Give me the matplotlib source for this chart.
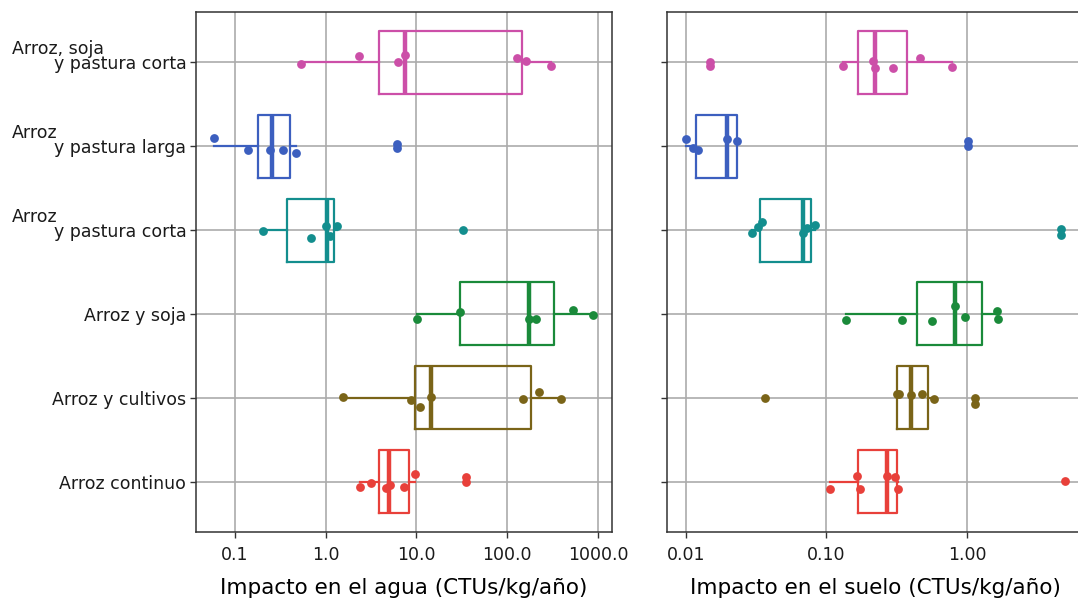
import matplotlib
matplotlib.use("Agg")
import matplotlib.pyplot as plt
import matplotlib.transforms as mtransforms
from matplotlib.ticker import FixedLocator, FixedFormatter

plt.rcParams['font.family'] = ['DejaVu Sans']

# ---- categories (bottom to top) ----
cat_line1 = ["", "", "", "Arroz", "Arroz", "Arroz, soja"]
cat_line2 = ["Arroz continuo", "Arroz y cultivos", "Arroz y soja",
             "y pastura corta", "y pastura larga", "y pastura corta"]
colors = ["#E8403A", "#7A6418", "#1A8A3A", "#138E8E", "#3C5FBF", "#CC4FA8"]

# ---- water impact: points (CTUs/kg/año) ----
agua_vals = [
    [2.39, 3.13, 4.61, 5.1, 7.22, 9.6, 34.8, 34.8],
    [1.54, 8.7, 11.0, 14.6, 150, 222, 387],
    [10.1, 30.1, 175, 205, 525, 885],
    [0.204, 0.689, 1.0, 1.11, 1.34, 32.5],
    [0.059, 0.14, 0.244, 0.341, 0.474, 6.03, 6.03],
    [0.53, 2.34, 6.3, 7.5, 128, 161, 302],
]
agua_jit_px = [
    [5.4, 1.4, 6.7, 3.4, 5.4, -7.3, -4.6, 0.4],
    [-0.7, 2.3, 9.0, -0.7, 1.3, -5.4, 1.6],
    [4.7, -2.0, 5.0, 5.0, -4.3, 1.4],
    [1.3, 8.3, -4.3, 5.7, -4.0, 0.0],
    [-8.0, 4.0, 4.3, 4.3, 7.0, -2.5, 1.5],
    [1.6, -6.0, -0.7, -7.7, -4.7, -1.7, 3.3],
]
# box stats: q1, median, q3, whisker low, whisker high
agua_q1 = [3.84, 9.7, 30.1, 0.378, 0.181, 3.84]
agua_med = [5.02, 14.6, 175, 1.03, 0.254, 7.47]
agua_q3 = [8.33, 182, 330, 1.23, 0.404, 144]
agua_lo = [2.39, 1.54, 10.1, 0.204, 0.059, 0.53]
agua_hi = [9.6, 387, 885, 1.34, 0.474, 302]

# ---- soil impact ----
suelo_vals = [
    [0.106, 0.164, 0.173, 0.271, 0.307, 0.321, 4.98],
    [0.0365, 0.317, 0.33, 0.399, 0.476, 0.582, 1.14, 1.14],
    [0.137, 0.345, 0.561, 0.821, 0.968, 1.64, 1.67],
    [0.0293, 0.0324, 0.0346, 0.068, 0.0723, 0.0828, 4.67, 4.67],
    [0.0100, 0.01127, 0.01224, 0.0195, 0.0230, 1.02, 1.02],
    [0.0148, 0.0148, 0.131, 0.213, 0.222, 0.299, 0.466, 0.786],
]
suelo_jit_px = [
    [7.7, -5.6, 7.7, -5.6, -4.6, 7.0, -0.6],
    [0.0, -3.4, -3.4, -2.7, -3.4, 1.3, 0.0, 6.6],
    [6.4, 5.7, 6.7, -7.6, 3.0, -3.3, 5.0],
    [3.3, -3.3, -8.3, 3.3, -1.7, -5.0, -1.0, 5.0],
    [-7.4, 1.6, 4.3, -7.4, -5.0, -5.0, 0.3],
    [-0.5, 3.5, 3.3, -1.4, 6.0, 6.0, -4.0, 4.3],
]
suelo_q1 = [0.168, 0.319, 0.439, 0.0336, 0.01172, 0.168]
suelo_med = [0.271, 0.399, 0.821, 0.0684, 0.0195, 0.221]
suelo_q3 = [0.316, 0.525, 1.27, 0.0776, 0.0230, 0.376]
suelo_lo = [0.106, 0.317, 0.137, 0.0293, 0.0100, 0.131]
suelo_hi = [0.321, 0.582, 1.67, 0.0828, 0.0230, 0.786]

agua_ticks = [0.1, 1, 10, 100, 1000]
agua_ticklabels = ["0.1", "1.0", "10.0", "100.0", "1000.0"]
suelo_ticks = [0.01, 0.1, 1]
suelo_ticklabels = ["0.01", "0.10", "1.00"]

W, H = 1078, 600
fig = plt.figure(figsize=(W / 100, H / 100), dpi=100)
axL = fig.add_axes([196 / W, 68 / H, 416 / W, 520 / H])
axR = fig.add_axes([667 / W, 68 / H, 416 / W, 520 / H])

PX_PER_UNIT = 84.1
grid_c = "#ABABAB"
spine_c = "#333333"


def draw_panel(ax, vals, jit, q1, med, q3, lo, hi, xlim, ticks, ticklabels, xlabel):
    positions = list(range(1, len(vals) + 1))
    ax.set_xscale("log")
    for i, pos in enumerate(positions):
        st = [dict(med=med[i], q1=q1[i], q3=q3[i], whislo=lo[i], whishi=hi[i], fliers=[])]
        c = colors[i]
        ax.bxp(st, positions=[pos], widths=0.75, orientation="horizontal",
               showcaps=False, showfliers=False, patch_artist=False,
               boxprops=dict(color=c, linewidth=1.6),
               whiskerprops=dict(color=c, linewidth=1.6),
               medianprops=dict(color=c, linewidth=3.2),
               manage_ticks=False, zorder=3)
        ys = [pos - d / PX_PER_UNIT for d in jit[i]]
        ax.scatter(vals[i], ys, s=40, color=c, zorder=4, linewidths=0)
    ax.set_xlim(*xlim)
    ax.set_ylim(0.4, len(vals) + 0.6)
    ax.xaxis.set_major_locator(FixedLocator(ticks))
    ax.xaxis.set_major_formatter(FixedFormatter(ticklabels))
    ax.xaxis.set_minor_locator(FixedLocator([]))
    ax.set_yticks(positions)
    ax.grid(True, which="major", color=grid_c, linewidth=1.2, zorder=0)
    ax.set_axisbelow(True)
    for s in ax.spines.values():
        s.set_color(spine_c)
        s.set_linewidth(1.1)
    ax.tick_params(axis="both", which="major", length=4, width=1.0, color=spine_c,
                   labelsize=12.5, labelcolor="#1a1a1a", pad=3)
    ax.tick_params(axis="x", pad=6)
    ax.set_xlabel(xlabel, fontsize=15.5, color="black", labelpad=10)


draw_panel(axL, agua_vals, agua_jit_px, agua_q1, agua_med, agua_q3, agua_lo, agua_hi,
           (10 ** -1.428, 10 ** 3.153), agua_ticks, agua_ticklabels,
           "Impacto en el agua (CTUs/kg/año)")
draw_panel(axR, suelo_vals, suelo_jit_px, suelo_q1, suelo_med, suelo_q3, suelo_lo, suelo_hi,
           (10 ** -2.135, 10 ** 0.826), suelo_ticks, suelo_ticklabels,
           "Impacto en el suelo (CTUs/kg/año)")

axL.set_yticklabels(cat_line2)
axR.set_yticklabels([])

# first lines of the two-line category labels
trans = mtransforms.blended_transform_factory(fig.transFigure, axL.transData)
for i, t in enumerate(cat_line1):
    if t:
        axL.annotate(t, xy=(12 / W, i + 1), xycoords=trans,
                     xytext=(0, 6), textcoords="offset points",
                     ha="left", va="baseline", fontsize=12.5, color="#1a1a1a",
                     annotation_clip=False)

fig.savefig("out.png", dpi=100, facecolor="white")
